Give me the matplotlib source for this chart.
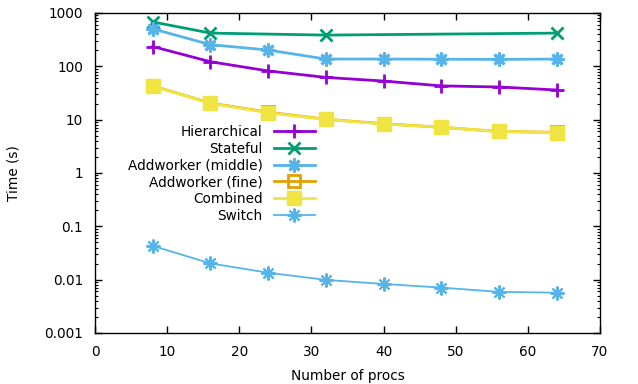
import matplotlib
matplotlib.use("Agg")
import matplotlib.pyplot as plt
from matplotlib.ticker import LogLocator, FixedLocator, NullFormatter

# Scaling results: wall-clock time vs. number of processes
procs = [8, 16, 24, 32, 40, 48, 56, 64]
stateful_procs = [8, 16, 32, 64]

hierarchical = [235, 122, 82, 62, 53, 43, 41, 36]
stateful = [680, 420, 385, 420]
addworker_middle = [505, 255, 202, 137, 137, 136, 135, 137]
addworker_fine = [43, 20.5, 13.8, 10.2, 8.4, 7.2, 6.0, 5.8]
combined = [43, 20.2, 13.5, 10.1, 8.3, 7.2, 6.0, 5.7]
switch = [0.043, 0.0202, 0.0135, 0.0099, 0.0083, 0.0071, 0.0059, 0.0057]

x_ticks = [0, 10, 20, 30, 40, 50, 60, 70]
y_ticks = [0.001, 0.01, 0.1, 1, 10, 100, 1000]
y_ticklabels = ["0.001", "0.01", "0.1", "1", "10", "100", "1000"]

FS = 9.8
plt.rcParams["font.family"] = ["DejaVu Sans"]
plt.rcParams["font.size"] = FS

fig = plt.figure(figsize=(6.38, 3.84), dpi=100)
ax = fig.add_axes([95 / 638, 1 - 333 / 384, 505 / 638, 320 / 384])

asterisk = (8, 2, 0)

ax.plot(procs, hierarchical, color="#9400d3", lw=2, marker="+", ms=10, mew=2,
        label="Hierarchical")
ax.plot(stateful_procs, stateful, color="#009e73", lw=2, marker="x", ms=9, mew=2,
        label="Stateful")
ax.plot(procs, addworker_middle, color="#56b4e9", lw=2, marker=asterisk, ms=10, mew=2,
        label="Addworker (middle)")
ax.plot(procs, addworker_fine, color="#e69f00", lw=2, marker="s", ms=9,
        mfc="none", mew=2, label="Addworker (fine)")
ax.plot(procs, combined, color="#f0e442", lw=2, marker="s", ms=10, mew=1,
        label="Combined")
ax.plot(procs, switch, color="#56b4e9", lw=1.3, marker=asterisk, ms=10, mew=1.5,
        label="Switch")

ax.set_xlim(0, 70)
ax.set_yscale("log")
ax.set_ylim(0.001, 1000)

ax.xaxis.set_major_locator(FixedLocator(x_ticks))
ax.yaxis.set_major_locator(FixedLocator(y_ticks))
ax.set_yticklabels(y_ticklabels)
ax.yaxis.set_minor_locator(LogLocator(base=10, subs=range(2, 10), numticks=20))
ax.yaxis.set_minor_formatter(NullFormatter())

ax.tick_params(axis="both", which="major", direction="in", length=5, width=1,
               top=True, right=True, labelsize=FS, colors="black")
ax.tick_params(axis="x", which="major", pad=9)
ax.tick_params(axis="y", which="major", pad=8.5)
ax.tick_params(axis="y", which="minor", direction="in", length=2.5, width=0.8,
               right=True)
for side in ("left", "right", "top", "bottom"):
    ax.spines[side].set_linewidth(1)

ax.set_xlabel("Number of procs", fontsize=FS, labelpad=7)
ax.set_ylabel("Time (s)", fontsize=FS, labelpad=17)

leg = ax.legend(loc="upper left", bbox_to_anchor=(128 / 638, 1 - 125 / 384),
                bbox_transform=fig.transFigure, markerfirst=False, frameon=False,
                handlelength=3.0, handletextpad=0.8, labelspacing=0.2,
                borderpad=0, borderaxespad=0, fontsize=FS)

fig.savefig("out.png", dpi=100)
